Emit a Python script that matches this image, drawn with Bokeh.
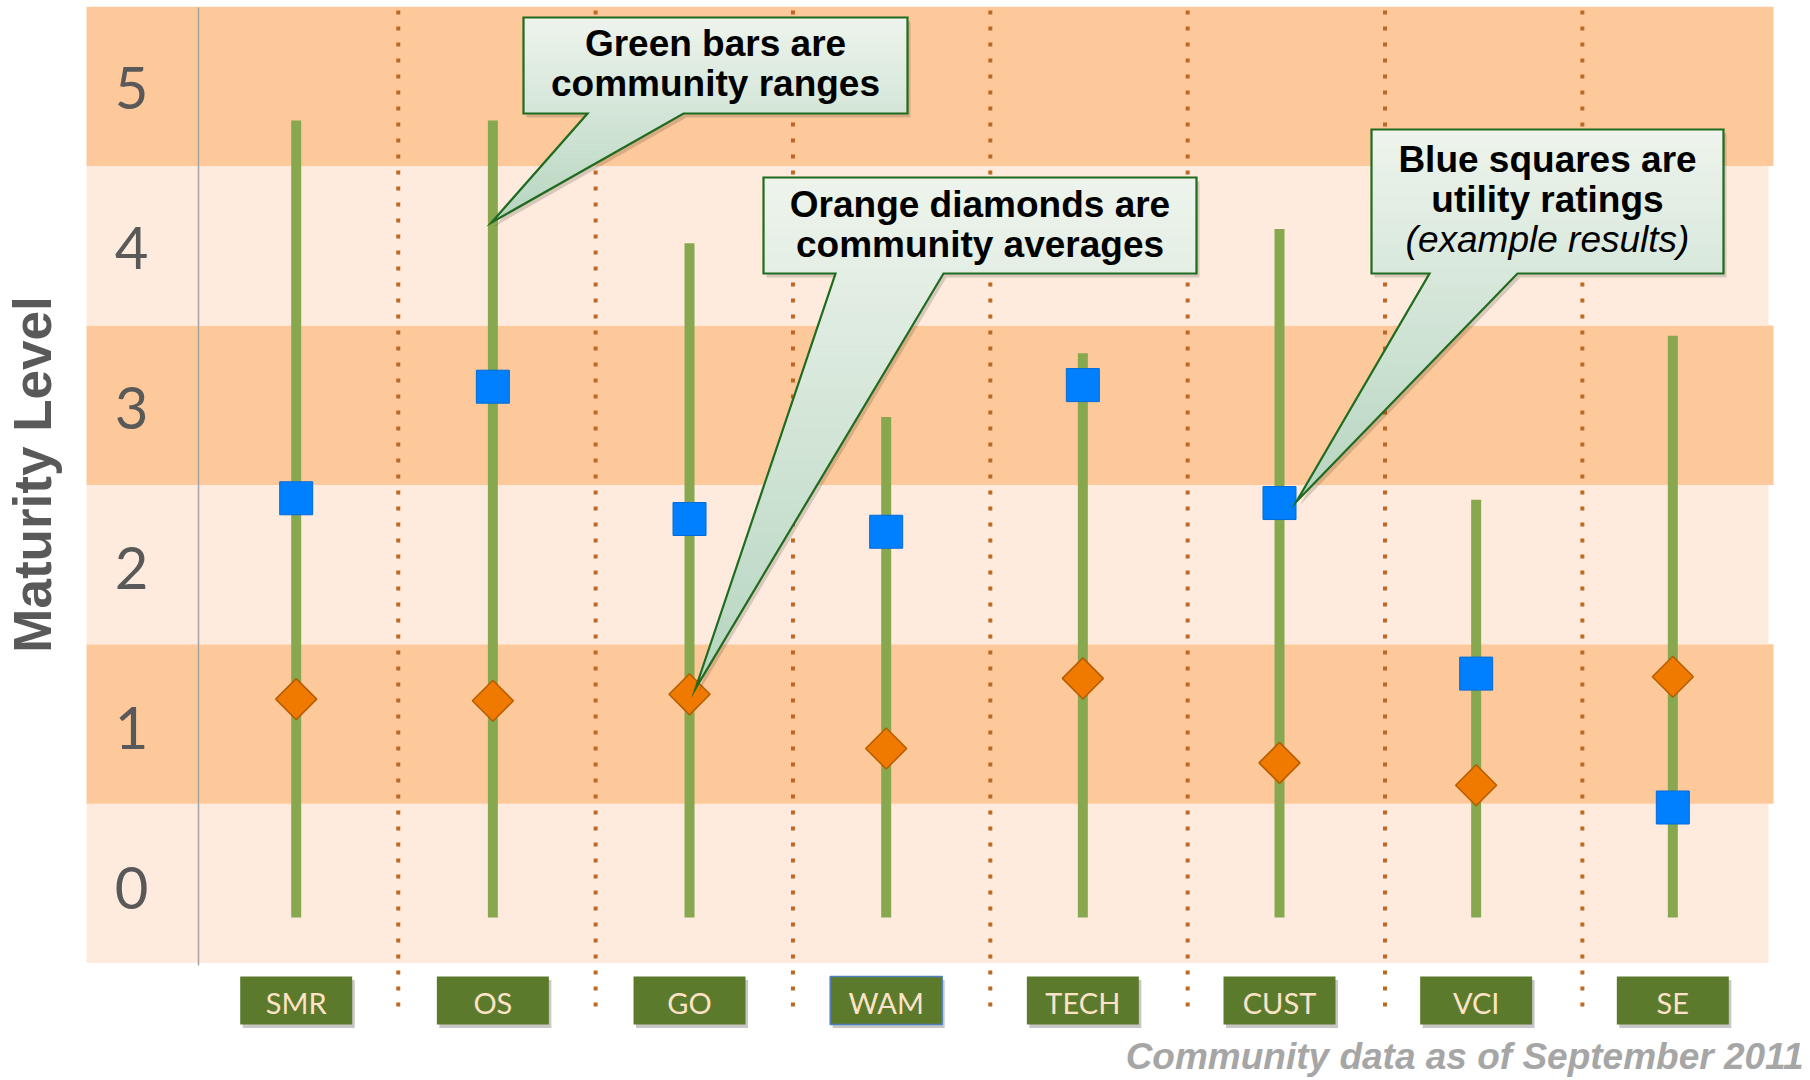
import numpy as np
from bokeh.plotting import figure
from bokeh.models import Range1d, ColumnDataSource
from bokeh.core.properties import value
from bokeh.embed import file_html
from bokeh.resources import INLINE

# ---------------- data ----------------
categories = ["SMR", "OS", "GO", "WAM", "TECH", "CUST", "VCI", "SE"]
range_min = [0, 0, 0, 0, 0, 0, 0, 0]
range_max = [5.0, 5.0, 4.23, 3.14, 3.54, 4.32, 2.62, 3.65]
community_avg = [1.37, 1.36, 1.40, 1.06, 1.50, 0.97, 0.83, 1.51]
utility_rating = [2.63, 3.33, 2.50, 2.42, 3.34, 2.60, 1.53, 0.69]
levels = [0, 1, 2, 3, 4, 5]
level_labels = ["0", "1", "2", "3", "4", "5"]
highlighted = "WAM"
y_title = "Maturity Level"
footnote = "Community data as of September 2011"
callout1_lines = ["Green bars are", "community ranges"]
callout2_lines = ["Orange diamonds are", "community averages"]
callout3_lines = ["Blue squares are", "utility ratings", "(example results)"]

# ---------------- layout ----------------
W, H = 1810, 1080
CX0, CXS = 295.7, 196.66     # pixel of first category, pixels per category
VY0, VYS = 917.0, 159.4      # pixel of value 0, pixels per unit
BL = 0.40                    # baseline correction (em)


def X(px):
    return (px - CX0) / CXS


def Y(py):
    return (VY0 - py) / VYS


BAND_SHIFT = 0.214
DARK, LIGHT = "#FDC99A", "#FEEBDD"
BAR_C = "#87A84E"
SQ_C, SQ_L = "#0080FF", "#006AD8"
DM_C, DM_L = "#F07A00", "#B55C00"
SEP_C = "#BF6822"
BOX_C = "#5C7A2B"
LBL_C = "#FCE3C8"
CALL_LINE = "#1F6B1F"
CT, CB = (238, 244, 237), (182, 213, 192)

p = figure(width=W, height=H, output_backend="svg", toolbar_location=None,
           x_range=Range1d(X(0), X(W)), y_range=Range1d(Y(H), Y(0)),
           x_axis_type=None, y_axis_type=None, min_border=0)
p.outline_line_color = None
p.background_fill_color = "white"
p.border_fill_color = "white"

idx = list(range(len(categories)))

# background bands
p.quad(left=[X(86)] * len(levels),
       right=[X(1773) if k % 2 else X(1768) for k in levels],
       bottom=[k - 0.5 + BAND_SHIFT for k in levels],
       top=[k + 0.5 + BAND_SHIFT for k in levels],
       fill_color=[DARK if k % 2 else LIGHT for k in levels], line_color=None)

# axis line
p.segment(x0=[X(198)], x1=[X(198)], y0=[Y(965)], y1=[Y(7)], line_color="#A3A3A3", line_width=1.5)

# level labels
p.text(x=[X(131)] * len(levels), y=[k * 1.003 + 0.041 + BL * 58 / VYS for k in levels], text=level_labels,
       text_font=value("Lato"), text_font_size=value("58px"), text_color="#595959",
       text_align="center", text_baseline="alphabetic")

# y title
p.text(x=[X(53 - BL * 53)], y=[Y(474)], text=[y_title], angle=np.pi / 2,
       text_font=value("Liberation Sans"), text_font_style="bold", text_font_size=value("53px"),
       text_color="#595959", text_align="center", text_baseline="alphabetic")

# dotted separators
seps = [0.519 + 1.0035 * i for i in range(len(categories) - 1)]
p.segment(x0=seps, x1=seps, y0=[Y(1006)] * len(seps), y1=[Y(10)] * len(seps),
          line_color=SEP_C, line_width=4, line_dash="4 12", line_cap="butt")

src = ColumnDataSource(dict(x=idx, lo=range_min, hi=range_max, avg=community_avg,
                            util=utility_rating, cat=categories))

# ranges
p.segment(x0="x", x1="x", y0="lo", y1="hi", source=src, line_color=BAR_C, line_width=10, line_cap="butt")
# utility ratings
p.scatter(x="x", y="util", source=src, marker="square", size=33, fill_color=SQ_C, line_color=SQ_L, line_width=1)
# community averages
p.scatter(x="x", y="avg", source=src, marker="square", angle=np.pi / 4, size=29,
          fill_color=DM_C, line_color=DM_L, line_width=1.5)

# category label boxes
p.rect(x=[i + 2.5 / CXS for i in idx], y=[Y(1003.5)] * len(idx), width=112, height=48,
       width_units="screen", height_units="screen", fill_color="#000000", fill_alpha=0.22, line_color=None)
p.rect(x="x", y=Y(1000), source=src, width=112, height=48, width_units="screen", height_units="screen",
       fill_color=BOX_C, line_color=None)
hi_i = categories.index(highlighted)
p.rect(x=[hi_i], y=[Y(1000)], width=112, height=48, width_units="screen", height_units="screen",
       fill_color=None, line_color="#4F81BD", line_width=1.5)
p.text(x="x", y=Y(1014 - BL * 29), text="cat", source=src, text_font=value("Lato"), text_font_size=value("29px"),
       text_color=LBL_C, text_align="center", text_baseline="alphabetic")


def mix(t):
    t = min(max(t, 0.0), 1.0)
    c = [int(round(a + (b - a) * t)) for a, b in zip(CT, CB)]
    return "#%02x%02x%02x" % tuple(c)


def callout(box, base, tip, lines):
    x0, y0, x1, y1 = box
    bl, br = base
    tx, ty = tip
    outline = [(x0, y0), (x1, y0), (x1, y1), (br, y1), (tx, ty), (bl, y1), (x0, y1)]
    p.patch([X(a + 3) for a, b in outline], [Y(b + 4) for a, b in outline],
            fill_color="#000000", fill_alpha=0.15, line_color=None)
    span = ty - y0
    N = 24
    tops, bots, cols = [], [], []
    for j in range(N):
        ya = y0 + (y1 - y0) * j / N
        yb = y0 + (y1 - y0) * (j + 1) / N
        tops.append(Y(ya)); bots.append(Y(yb)); cols.append(mix(((ya + yb) / 2 - y0) / span))
    p.quad(left=[X(x0)] * N, right=[X(x1)] * N, top=tops, bottom=bots,
           fill_color=cols, line_color=cols, line_width=1)
    M = 40
    xs, ys, tcols = [], [], []
    for j in range(M):
        ta, tb = j / M, (j + 1) / M
        lax, rax, ay = bl + (tx - bl) * ta, br + (tx - br) * ta, y1 + (ty - y1) * ta
        lbx, rbx, by = bl + (tx - bl) * tb, br + (tx - br) * tb, y1 + (ty - y1) * tb
        xs.append([X(lax), X(rax), X(rbx), X(lbx)])
        ys.append([Y(ay), Y(ay), Y(by), Y(by)])
        tcols.append(mix(((ay + by) / 2 - y0) / span))
    p.patches(xs, ys, fill_color=tcols, line_color=tcols, line_width=1)
    p.patch([X(a) for a, b in outline], [Y(b) for a, b in outline], fill_color=None,
            line_color=CALL_LINE, line_width=2.2, line_join="miter")
    cx = (x0 + x1) / 2
    for txt, style, base_y in lines:
        p.text(x=[X(cx)], y=[Y(base_y - BL * 37)], text=[txt], text_font=value("Liberation Sans"),
               text_font_style=style, text_font_size=value("37px"), text_color="#000000",
               text_align="center", text_baseline="alphabetic")


callout((523, 17, 907, 113), (587, 683), (491, 222),
        [(callout1_lines[0], "bold", 58), (callout1_lines[1], "bold", 98)])
callout((763, 177, 1196, 273), (835, 943), (695, 688),
        [(callout2_lines[0], "bold", 219), (callout2_lines[1], "bold", 259)])
callout((1371, 129, 1723, 273), (1429, 1517), (1296, 501),
        [(callout3_lines[0], "bold", 174), (callout3_lines[1], "bold", 214), (callout3_lines[2], "italic", 254)])

# footnote
p.text(x=[X(1803)], y=[Y(1071 - BL * 37)], text=[footnote], text_font=value("Liberation Sans"),
       text_font_style="bold italic", text_font_size=value("37px"), text_color="#A6A6A6",
       text_align="right", text_baseline="alphabetic")

open("out.html", "w").write(file_html(p, INLINE))
